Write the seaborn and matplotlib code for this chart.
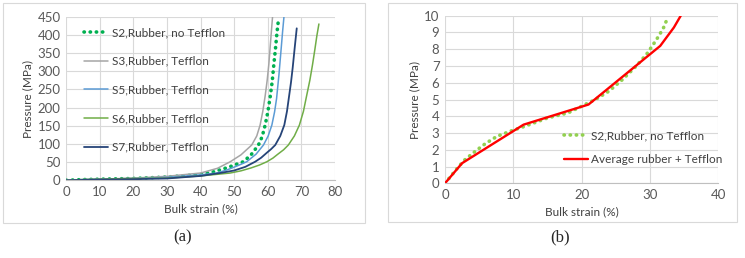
import numpy as np
import pandas as pd
import seaborn as sns
import matplotlib.pyplot as plt
from matplotlib.patches import Rectangle

# panel (a): pressure vs bulk strain for all samples
s2_x = [0, 5, 10, 20, 30, 40, 43.7, 48, 52.7, 55, 57.2, 58.3, 59.2, 60, 60.7, 61.3, 61.8, 62.3, 62.7, 63.2]
s2_y = [0, 2, 3, 5, 9, 16, 23, 35, 51, 70, 97, 120, 152, 188, 230, 272, 320, 365, 405, 445]
s3_x = [0, 5, 10, 20, 30, 40, 45, 48.8, 52, 55.2, 56.7, 57.7, 58.5, 59.2, 59.8, 60.3, 60.8, 61.4]
s3_y = [0, 2, 3, 6, 11, 20, 33, 51, 70, 97, 122, 152, 190, 232, 275, 320, 380, 450]
s5_x = [0, 5, 10, 20, 30, 40, 44.8, 48, 51, 53.7, 56.5, 58.7, 60.1, 61.2, 62, 62.6, 63.3, 63.9, 64.4, 64.8]
s5_y = [0, 2, 3, 5, 8, 15, 20, 29, 40, 51, 72, 97, 122, 152, 188, 225, 290, 355, 410, 450]
s6_x = [0, 5, 10, 20, 30, 40, 48.8, 52, 55, 57.5, 59.7, 61.5, 63, 64.7, 66.1, 67.9, 69.4, 70.6, 71.6, 72.5, 73.3, 74, 74.6, 75.2]
s6_y = [0, 2, 3, 5, 6, 12, 20, 26, 34, 42, 51, 61, 72, 84, 97, 122, 152, 190, 235, 275, 318, 360, 398, 430]
s7_x = [0, 5, 10, 20, 30, 40, 45.8, 50, 53.3, 56.2, 58, 59.6, 61, 62.2, 63.7, 64.9, 65.7, 66.3, 66.9, 67.4, 68, 68.6]
s7_y = [0, 1, 2, 3, 5, 12, 20, 27, 37, 51, 62, 75, 86, 97, 122, 152, 190, 230, 270, 310, 365, 418]

# panel (b): zoom on low pressures
b_s2_x = [0, 1, 2, 2.9, 4.4, 5.85, 7.6, 9.5, 11.3, 13, 15, 18, 20, 22, 24, 26, 28, 29.5, 30.5, 31.3, 32, 32.5]
b_s2_y = [0, 0.5, 1.0, 1.4, 1.9, 2.35, 2.8, 3.1, 3.35, 3.6, 3.9, 4.2, 4.6, 5.0, 5.5, 6.2, 7.0, 7.7, 8.3, 8.8, 9.3, 9.8]
avg_x = [0, 2.5, 11.5, 21, 31.5, 33.5, 34.5]
avg_y = [0, 1.2, 3.5, 4.7, 8.2, 9.3, 10]

sns.set_style("white")
plt.rcParams['font.family'] = ['Lato', 'DejaVu Sans']

fig = plt.figure(figsize=(7.45, 2.58), dpi=100)
ax1 = fig.add_axes([0.089, 0.3012, 0.3607, 0.634])
ax2 = fig.add_axes([0.5973, 0.2895, 0.3669, 0.6496])

dot = dict(linestyle=(0, (0.1, 1.6)), dash_capstyle='round', linewidth=2.6)

sns.lineplot(x=s2_x, y=s2_y, ax=ax1, color='#00b050', label='S2,Rubber, no Tefflon', sort=False, **dot)
sns.lineplot(x=s3_x, y=s3_y, ax=ax1, color='#a5a5a5', linewidth=1.1, label='S3,Rubber, Tefflon', sort=False)
sns.lineplot(x=s5_x, y=s5_y, ax=ax1, color='#5b9bd5', linewidth=1.1, label='S5,Rubber, Tefflon', sort=False)
sns.lineplot(x=s6_x, y=s6_y, ax=ax1, color='#70ad47', linewidth=1.1, label='S6,Rubber, Tefflon', sort=False)
sns.lineplot(x=s7_x, y=s7_y, ax=ax1, color='#264478', linewidth=1.3, label='S7,Rubber, Tefflon', sort=False)

sns.lineplot(x=b_s2_x, y=b_s2_y, ax=ax2, color='#92d050', label='S2,Rubber, no Tefflon', sort=False, **dot)
sns.lineplot(x=avg_x, y=avg_y, ax=ax2, color='#ff0000', linewidth=1.7, label='Average rubber + Tefflon', sort=False)

ax1.set_xlim(0, 80)
ax1.set_ylim(0, 450)
ax1.set_xticks(np.arange(0, 81, 10))
ax1.set_yticks(np.arange(0, 451, 50))
ax2.set_xlim(0, 40)
ax2.set_ylim(0, 10)
ax2.set_xticks(np.arange(0, 41, 10))
ax2.set_yticks(np.arange(0, 11, 1))

for ax in (ax1, ax2):
    ax.grid(True, color='#d9d9d9', linewidth=0.8)
    ax.set_axisbelow(True)
    for s in ['top', 'right', 'left']:
        ax.spines[s].set_visible(False)
    ax.spines['bottom'].set_color('#bfbfbf')
    ax.spines['bottom'].set_linewidth(0.8)
    ax.tick_params(length=0, labelsize=9.5, colors='#595959', pad=4)
    ax.set_xlabel('Bulk strain (%)', fontsize=8.5, color='#404040', labelpad=4)
    ax.set_ylabel('Pressure (MPa)', fontsize=8.5, color='#404040', labelpad=3)

ax1.legend(loc='upper left', bbox_to_anchor=(0.066, 0.937), frameon=False, fontsize=8.5,
           labelspacing=1.5, handlelength=2.0, handletextpad=0.35, labelcolor='#404040',
           borderpad=0, borderaxespad=0)
ax2.legend(loc='upper left', bbox_to_anchor=(0.435, 0.318), frameon=False, fontsize=8.5,
           labelspacing=1.12, handlelength=2.0, handletextpad=0.3, labelcolor='#404040',
           borderpad=0, borderaxespad=0)

W, H = 745, 258
for (x0, y0, x1, y1) in [(3, 3, 365, 223), (388, 3, 737, 222)]:
    fig.patches.append(Rectangle((x0 / W, 1 - y1 / H), (x1 - x0) / W, (y1 - y0) / H,
                                 transform=fig.transFigure, fill=False,
                                 edgecolor='#d9d9d9', linewidth=0.8))

fig.text(183 / W, 1 - 237 / H, '(a)', ha='center', va='center', fontsize=12,
         family='Liberation Serif')
fig.text(560 / W, 1 - 237 / H, '(b)', ha='center', va='center', fontsize=12,
         family='Liberation Serif')

fig.savefig('out.png', dpi=100)
